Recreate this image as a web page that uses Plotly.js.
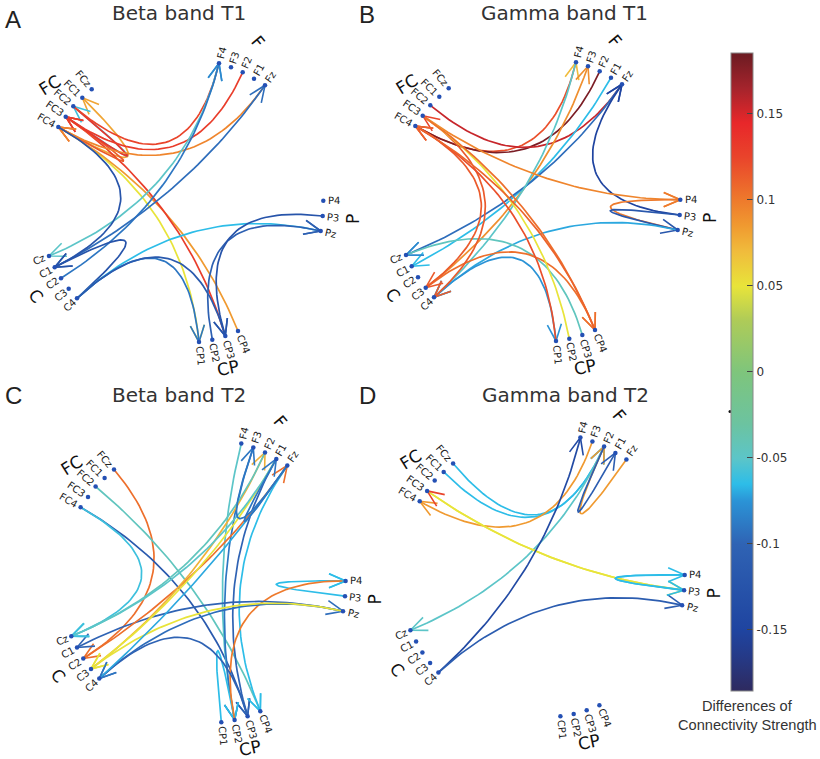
<!DOCTYPE html>
<html>
<head>
<meta charset="utf-8">
<script src="https://cdn.plot.ly/plotly-3.0.1.min.js"></script>
<style>html,body{margin:0;padding:0;background:#fff}#chart{width:820px;height:759px}</style>
</head>
<body>
<div id="chart"></div>
<script>
// ---------- channel layout of the first panel (page pixels) ----------
const channels = ["FCz","FC1","FC2","FC3","FC4","F4","F3","F2","F1","Fz","P4","P3","Pz","CP4","CP3","CP2","CP1","C4","C3","C2","C1","Cz"];
const channelX = [91.7,82.3,73.3,65.7,58.3,219,231,242.7,254,265,323.3,322.7,320.7,238,225.3,212.3,199,77,68.7,61,54.7,49];
const channelY = [89.3,97.7,106.3,116.7,127,63.3,67.3,72.3,78.7,85.3,200.7,216,231,331,336,339.7,342,298.3,288.7,278.3,267.3,256];

// ---------- panels ----------
const panelLetters = ["A","B","C","D"];
const panelTitles  = ["Beta band T1","Gamma band T1","Beta band T2","Gamma band T2"];
const panelShiftX  = [0,357,22.3,361.4];
const panelShiftY  = [0,-1,380.2,374.2];
const letterX = [13,367,13,367];
const letterY = [19,14,395,395];
const titleX  = [179,564,179,565];
const titleY  = [13,13,395,395];

// ---------- connections: from, to, difference of connectivity strength, optional arrow value ----------
const edgesA = [
 ["FC4","CP1",0.05],["FC4","FC1",0.08],["FC3","FC2",-0.06],["CP4","FC4",0.085],["CP3","FC3",0.13],
 ["FC3","FC4",0.115],["FC2","FC3",0.135],["FC2","F4",0.125,-0.08],["F2","FC3",0.13],["Fz","FC4",0.095],
 ["F4","Cz",-0.05],["C2","F4",-0.09,-0.08],["C1","Fz",-0.095],["FC4","C1",-0.125],["C4","C1",-0.125],
 ["C4","Pz",-0.065,-0.1],["C4","CP1",-0.09],["C4","CP3",-0.115],["CP2","Pz",-0.105],["P3","CP3",-0.125]
];
const edgesB = [
 ["FC4","F4",0.12,0.07],["F2","FC4",0.18,0.115],["FC2","Fz",0.155,-0.14],["C3","F3",0.09],
 ["F1","C1",-0.065],["Fz","Cz",-0.095,-0.08],["F4","C4",-0.05,-0.07],["P3","Fz",-0.15],["FC3","P4",0.095],
 ["Pz","P4",0.1],["P3","Pz",-0.12],["Pz","C4",-0.07],["C4","CP1",-0.075],["CP3","Cz",-0.045,-0.08],
 ["C3","CP4",0.105],["FC4","C3",0.115],["FC3","C4",0.115],["CP2","FC3",0.05,0.125],["CP1","FC4",0.12],
 ["FC3","CP4",0.105],["CP4","FC4",0.11]
];
const edgesC = [
 ["FCz","C2",0.105],["FC2","CP4",-0.045,-0.06],["FC4","CP3",-0.115],["FC4","Cz",-0.06],["F4","CP2",-0.05,-0.065],
 ["F3","CP2",-0.09],["F1","CP3",-0.1],["Fz","CP4",-0.065],["CP1","CP2",-0.065],["P3","P4",-0.065],
 ["CP2","P4",0.1,-0.065],["Pz","C1",-0.1],["C4","Pz",-0.095],["Pz","C3",0.05],["CP3","C4",-0.1],
 ["C2","Fz",0.105],["C3","F2",0.075],["F1","C3",0.05],["F2","Cz",-0.045,-0.06],["Fz","C4",-0.07,-0.09],
 ["F1","Cz",-0.05,-0.06],["Fz","F3",-0.09],["Fz","F1",-0.09]
];
const edgesD = [
 ["FCz","F2",-0.065],["FC1","F2",-0.065],["F2","Cz",-0.05],["F3","FC4",0.085],["FC3","P3",0.05],
 ["P3","FC3",0.05,0.125],["C4","F4",-0.14],["C4","Pz",-0.11],["Fz","F2",0.085],["F2","F1",-0.11],
 ["P3","P4",-0.065],["P4","P3",-0.065]
];
const panelEdges = [edgesA,edgesB,edgesC,edgesD];

// ---------- colour scale ----------
const scaleMin = -0.1853, scaleMax = 0.1856;
const scaleValues = [-0.1853,-0.165,-0.15,-0.1,-0.075,-0.065,-0.05,-0.03,0,0.03,0.05,0.07,0.085,0.1,0.125,0.145,0.165,0.1856];
const scaleColors = ["#2e2a5f","#253a88","#1f44a0","#2f63b4","#2b93d6","#2dbde8","#5cc5c8","#6cc3a0","#7ec57c","#aecb58","#e8e43a","#f0bc3c","#f09a30","#ee7a2c","#e9442b","#e8272a","#a5242c","#6b1b22"];
const colorbarTicks = [-0.15,-0.1,-0.05,0,0.05,0.1,0.15];
const colorbarText  = ["-0.15","-0.1","-0.05","0","0.05","0.1","0.15"];

function hex(c){return [1,3,5].map(i=>parseInt(c.substr(i,2),16));}
function colorOf(v){
  let i=0; while(i<scaleValues.length-2 && v>scaleValues[i+1]) i++;
  const t=Math.max(0,Math.min(1,(v-scaleValues[i])/(scaleValues[i+1]-scaleValues[i])));
  const a=hex(scaleColors[i]),b=hex(scaleColors[i+1]);
  return "rgb("+a.map((x,k)=>Math.round(x+(b[k]-x)*t)).join(",")+")";
}

// ---------- geometry of the circular graph ----------
const hubX = 185, hubY = 200;      // every link bends toward the hub of its panel
const headLen = 18, headAngle = 23*Math.PI/180, curveSteps = 48;
function lin(p0,p1,t){return p0+(p1-p0)*t;}

const traces = [];
const annotations = [];
const nodeIdx = n => channels.indexOf(n);

panelEdges.forEach((edges,p)=>{
  const sx=panelShiftX[p], sy=panelShiftY[p];
  const cx=hubX+sx, cy=hubY+sy;
  edges.forEach(e=>{
    const a=nodeIdx(e[0]), b=nodeIdx(e[1]);
    const x0=channelX[a]+sx,y0=channelY[a]+sy,x1=channelX[b]+sx,y1=channelY[b]+sy;
    const xs=[],ys=[];
    for(let k=0;k<=curveSteps;k++){
      const t=k/curveSteps;
      xs.push(lin(lin(x0,cx,t),lin(cx,x1,t),t));
      ys.push(lin(lin(y0,cy,t),lin(cy,y1,t),t));
    }
    traces.push({x:xs,y:ys,mode:"lines",hoverinfo:"skip",showlegend:false,
      line:{color:colorOf(e[2]),width:1.7}});
    const d=Math.hypot(cx-x1,cy-y1), ux=(cx-x1)/d, uy=(cy-y1)/d;
    const hx=[],hy=[];
    [-1,1].forEach(s=>{
      const cs=Math.cos(s*headAngle), sn=Math.sin(s*headAngle);
      hx.push(x1+headLen*(ux*cs-uy*sn)); hy.push(y1+headLen*(ux*sn+uy*cs));
      if(s<0){hx.push(x1);hy.push(y1);}
    });
    traces.push({x:hx,y:hy,mode:"lines",hoverinfo:"skip",showlegend:false,
      line:{color:colorOf(e.length>3?e[3]:e[2]),width:1.6}});
  });

  // channels
  const nx=channelX.map(v=>v+sx), ny=channelY.map(v=>v+sy);
  traces.push({x:nx,y:ny,mode:"markers",hoverinfo:"skip",showlegend:false,
    marker:{size:4.5,color:"#2450b4",line:{width:0}}});

  channels.forEach((name,i)=>{
    const dx=channelX[i]-hubX, dy=channelY[i]-hubY, r=Math.hypot(dx,dy);
    const w=name.length*0.64*10;
    let ang=Math.atan2(dy,dx)*180/Math.PI;
    if(dx<0) ang+= ang>0 ? -180 : 180;
    annotations.push({xref:"x",yref:"y",x:nx[i]+dx/r*(4+w/2),y:ny[i]+dy/r*(4+w/2),text:name,showarrow:false,
      textangle:ang,xanchor:"center",yanchor:"middle",font:{family:"DejaVu Sans",size:10,color:"#222"}});
  });

  // group names
  [["FC",50,85,-32],["F",258,42,50],["P",353,219,-90],["C",36,296,50],["CP",228,368,-12]].forEach(g=>{
    annotations.push({xref:"x",yref:"y",x:g[1]+sx,y:g[2]+sy,text:g[0],showarrow:false,textangle:g[3],
      xanchor:"center",yanchor:"middle",font:{family:"DejaVu Sans",size:17,color:"#111"}});
  });

  annotations.push({xref:"x",yref:"y",x:titleX[p],y:titleY[p],text:panelTitles[p],showarrow:false,
    xanchor:"center",yanchor:"middle",font:{family:"DejaVu Sans",size:20,color:"#333"}});
  annotations.push({xref:"x",yref:"y",x:letterX[p],y:letterY[p],text:panelLetters[p],showarrow:false,
    xanchor:"center",yanchor:"middle",font:{family:"Liberation Sans",size:24,color:"#222"}});
});

// colour bar carried by an off-canvas marker trace
traces.push({x:[-20,-20],y:[-20,-20],mode:"markers",hoverinfo:"skip",showlegend:false,
  marker:{size:1,color:[scaleMin,scaleMax],cmin:scaleMin,cmax:scaleMax,
    colorscale:scaleValues.map((v,i)=>[(v-scaleMin)/(scaleMax-scaleMin),scaleColors[i]]),
    showscale:true,
    colorbar:{thickness:22,thicknessmode:"pixels",len:638,lenmode:"pixels",
      x:731/820,xanchor:"left",xpad:0,y:1-52.7/759,yanchor:"top",ypad:0,
      outlinecolor:"#888",outlinewidth:1,borderwidth:0,
      tickmode:"array",tickvals:colorbarTicks,ticktext:colorbarText,ticks:"inside",ticklen:6,tickwidth:1,tickcolor:"#444",
      tickfont:{family:"DejaVu Sans",size:12,color:"#333"}}}});

// stray dot beside the bar
traces.push({x:[730],y:[411.5],mode:"markers",hoverinfo:"skip",showlegend:false,marker:{size:3,color:"#111"}});

annotations.push({xref:"x",yref:"y",x:747,y:706,text:"Differences of",showarrow:false,xanchor:"center",yanchor:"middle",
  font:{family:"Liberation Sans",size:14.6,color:"#333"}});
annotations.push({xref:"x",yref:"y",x:747,y:725,text:"Connectivity Strength",showarrow:false,xanchor:"center",yanchor:"middle",
  font:{family:"Liberation Sans",size:14.6,color:"#333"}});

Plotly.newPlot("chart",traces,{
  width:820,height:759,margin:{l:0,r:0,t:0,b:0},paper_bgcolor:"#fff",plot_bgcolor:"#fff",showlegend:false,
  xaxis:{range:[0,820],visible:false,fixedrange:true},
  yaxis:{range:[759,0],visible:false,fixedrange:true},
  annotations:annotations
},{displayModeBar:false,staticPlot:true});
</script>
</body>
</html>
